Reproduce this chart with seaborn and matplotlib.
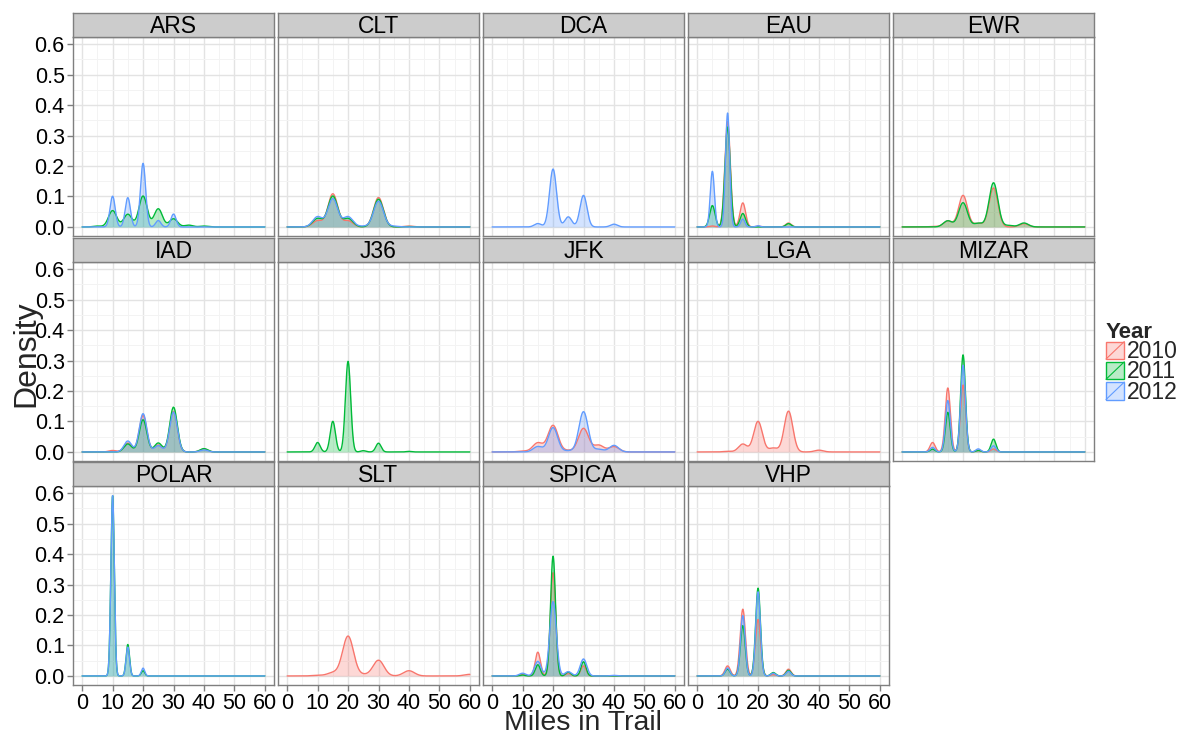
import numpy as np
import matplotlib
matplotlib.use("Agg")
import matplotlib.pyplot as plt
import seaborn as sns
from matplotlib.patches import Rectangle
from matplotlib.lines import Line2D
from matplotlib.legend_handler import HandlerBase
from matplotlib.ticker import MultipleLocator, FormatStrFormatter
from matplotlib.colors import to_rgba

FACETS = ["ARS", "CLT", "DCA", "EAU", "EWR", "IAD", "J36", "JFK", "LGA",
          "MIZAR", "POLAR", "SLT", "SPICA", "VHP"]
YEARS = ["2010", "2011", "2012"]
COLORS = ["#F8766D", "#00BA38", "#619CFF"]
MILES = [0, 5, 10, 15, 20, 25, 30, 35, 40, 45, 50, 55, 60]

# share of flights at each MILES value, one row per facet (None = no data)
SHARE_2010 = [
    None,                                                        # ARS
    [0, 0, .085, .45, .085, 0, .40, 0, .012, 0, 0, 0, 0],       # CLT
    None,                                                        # DCA
    [0, .007, .78, .178, .005, 0, .029, 0, 0, 0, 0, 0, 0],      # EAU
    [0, 0, .005, .073, .385, .044, .475, 0, .04, 0, 0, 0, 0],   # EWR
    [0, 0, .015, .09, .37, .07, .41, 0, .03, 0, 0, 0, 0],       # IAD
    None,                                                        # J36
    [0, 0, .012, .128, .373, .02, .331, .095, .075, 0, 0, 0, 0],  # JFK
    [0, 0, .007, .093, .36, .046, .48, 0, .021, 0, 0, 0, 0],    # LGA
    [0, 0, .065, .44, .46, .01, .02, 0, 0, 0, 0, 0, 0],         # MIZAR
    None,                                                        # POLAR
    [0, 0, .01, .05, .618, .02, .244, 0, .081, 0, 0, 0, .025],  # SLT
    [0, 0, .013, .168, .73, .017, .071, 0, 0, 0, 0, 0, 0],      # SPICA
    [0, 0, .071, .473, .40, .009, .048, 0, 0, 0, 0, 0, 0],      # VHP
]
SHARE_2011 = [
    [0, .01, .18, .14, .34, .20, .09, .02, .01, 0, 0, 0, 0],    # ARS
    [0, 0, .11, .40, .11, 0, .36, 0, .005, 0, 0, 0, 0],         # CLT
    None,                                                        # DCA
    [0, .154, .72, .097, 0, 0, .024, 0, 0, 0, 0, 0, 0],         # EAU
    [0, 0, 0, .073, .287, .044, .523, .018, .047, 0, 0, 0, 0],  # EWR
    [0, 0, 0, .081, .326, .091, .454, 0, .034, 0, 0, 0, 0],     # IAD
    [0, 0, .067, .217, .642, .009, .062, 0, .004, 0, 0, 0, 0],  # J36
    None,                                                        # JFK
    None,                                                        # LGA
    [0, 0, .018, .257, .63, .01, .083, 0, 0, 0, 0, 0, 0],       # MIZAR
    [0, 0, .825, .144, .024, 0, 0, 0, 0, 0, 0, 0, 0],           # POLAR
    None,                                                        # SLT
    [0, 0, .006, .075, .80, .026, .095, 0, 0, 0, 0, 0, 0],      # SPICA
    [0, 0, .044, .327, .57, .022, .036, 0, 0, 0, 0, 0, 0],      # VHP
]
SHARE_2012 = [
    [0, 0, .215, .205, .445, .045, .09, 0, 0, 0, 0, 0, 0],      # ARS
    [0, 0, .13, .357, .13, .01, .325, .01, 0, 0, 0, 0, 0],      # CLT
    [0, 0, 0, .032, .545, .095, .297, 0, .026, 0, 0, 0, 0],     # DCA
    [0, .31, .635, .044, .007, 0, 0, 0, 0, 0, 0, 0, 0],         # EAU
    None,                                                        # EWR
    [0, 0, 0, .11, .385, .063, .40, 0, .02, 0, 0, 0, 0],        # IAD
    None,                                                        # J36
    [0, 0, 0, .068, .307, .015, .508, .034, .083, 0, 0, 0, 0],  # JFK
    None,                                                        # LGA
    [0, 0, .03, .336, .566, .02, .04, 0, 0, 0, 0, 0, 0],        # MIZAR
    [0, 0, .832, .133, .036, 0, 0, 0, 0, 0, 0, 0, 0],           # POLAR
    None,                                                        # SLT
    [0, 0, .024, .129, .657, .038, .15, 0, .005, 0, 0, 0, 0],   # SPICA
    [0, 0, .05, .378, .527, .017, .029, 0, 0, 0, 0, 0, 0],      # VHP
]
# kernel bandwidth (miles) per facet and year
BW_2010 = [None, 1.6, None, 0.9, 1.45, 1.25, None, 1.65, 1.42, 0.84, None, 1.8, 0.86, 0.86]
BW_2011 = [1.35, 1.6, None, 0.88, 1.45, 1.25, 0.86, None, None, 0.79, 0.56, None, 0.81, 0.79]
BW_2012 = [0.85, 1.6, 1.15, 0.68, None, 1.25, None, 1.51, None, 0.80, 0.56, None, 1.07, 0.76]

sns.set_theme(style="white")
plt.rcParams['font.family'] = ['Liberation Sans', 'DejaVu Sans']

W, H = 1180, 735
fig = plt.figure(figsize=(W / 100, H / 100), dpi=100)
col_left = [73, 278, 483, 688, 893]
row_top = [13, 238, 462]
pw, sh, ph = 201, 24, 199
GREY = '#7F7F7F'
FILL_ALPHA = 0.28


def rect(l, t, w, h):
    return [l / W, 1 - (t + h) / H, w / W, h / H]


shares = [SHARE_2010, SHARE_2011, SHARE_2012]
bws = [BW_2010, BW_2011, BW_2012]

for i, fac in enumerate(FACETS):
    r, c = divmod(i, 5)
    ax = fig.add_axes(rect(col_left[c], row_top[r] + sh, pw, ph))
    sax = fig.add_axes(rect(col_left[c], row_top[r], pw, sh))
    for yi in range(3):
        w = shares[yi][i]
        if w is None:
            continue
        x = np.array(MILES, float)
        wt = np.array(w, float)
        keep = wt > 0
        x, wt = x[keep], wt[keep]
        sd = float(np.sqrt(np.cov(x, aweights=wt)))
        factor = bws[yi][i] / sd
        kw = dict(x=x, weights=wt, bw_method=factor, clip=(0, 60), cut=200,
                  gridsize=2400, color=COLORS[yi], ax=ax)
        sns.kdeplot(fill=True, alpha=FILL_ALPHA, linewidth=0, **kw)
        sns.kdeplot(fill=False, linewidth=1.0, **kw)

    ax.set_xlim(-3, 63)
    ax.set_ylim(-0.0297, 0.6237)
    ax.xaxis.set_major_locator(MultipleLocator(10))
    ax.xaxis.set_minor_locator(MultipleLocator(5))
    ax.yaxis.set_major_locator(MultipleLocator(0.1))
    ax.yaxis.set_minor_locator(MultipleLocator(0.05))
    ax.yaxis.set_major_formatter(FormatStrFormatter('%.1f'))
    ax.xaxis.set_major_formatter(FormatStrFormatter('%d'))
    ax.set_axisbelow(True)
    ax.grid(which='major', color='#E3E3E3', lw=1.0)
    ax.grid(which='minor', color='#F3F3F3', lw=0.7)
    for s in ax.spines.values():
        s.set_color(GREY)
        s.set_linewidth(1.0)
    ax.tick_params(which='minor', length=0)
    ax.tick_params(which='major', length=4, width=1, color=GREY, labelsize=15.5,
                   pad=2, labelcolor='black', direction='out')
    ax.tick_params(axis='x', bottom=(r == 2), labelbottom=(r == 2), top=False)
    ax.tick_params(axis='y', left=(c == 0), labelleft=(c == 0), right=False)
    ax.set_xlabel('')
    ax.set_ylabel('')

    sax.set_facecolor('#CCCCCC')
    sax.set_xticks([])
    sax.set_yticks([])
    for s in sax.spines.values():
        s.set_color(GREY)
        s.set_linewidth(1.0)
    sax.text(0.5, 0.45, fac, ha='center', va='center', fontsize=16.5,
             color='black', transform=sax.transAxes)

fig.text(26 / W, 1 - 354 / H, 'Density', rotation=90, ha='center', va='center',
         fontsize=23)
fig.text(583 / W, 1 - 730 / H, 'Miles in Trail', ha='center', va='baseline',
         fontsize=20.5)


class KeyHandler(HandlerBase):
    def create_artists(self, legend, orig_handle, xdescent, ydescent, width,
                       height, fontsize, trans):
        ec = orig_handle.get_edgecolor()
        box = Rectangle((-xdescent, -ydescent), width, height,
                        facecolor=orig_handle.get_facecolor(), edgecolor=ec,
                        lw=1.0, transform=trans)
        diag = Line2D([-xdescent, -xdescent + width],
                      [-ydescent, -ydescent + height], color=ec, lw=0.8,
                      transform=trans)
        return [box, diag]


handles = [Rectangle((0, 0), 1, 1, facecolor=to_rgba(col, FILL_ALPHA),
                     edgecolor=col) for col in COLORS]
fig.legend(handles, YEARS, title='Year', loc='upper left',
           bbox_to_anchor=(1106 / W, 1 - 322 / H), frameon=False, fontsize=16.5,
           title_fontproperties={'weight': 'bold', 'size': 16},
           handler_map={Rectangle: KeyHandler()}, handlelength=0.8,
           handleheight=0.8, handletextpad=0.1, labelspacing=-0.12,
           alignment='left', borderaxespad=0, borderpad=0)

fig.savefig('out.png', dpi=100)
